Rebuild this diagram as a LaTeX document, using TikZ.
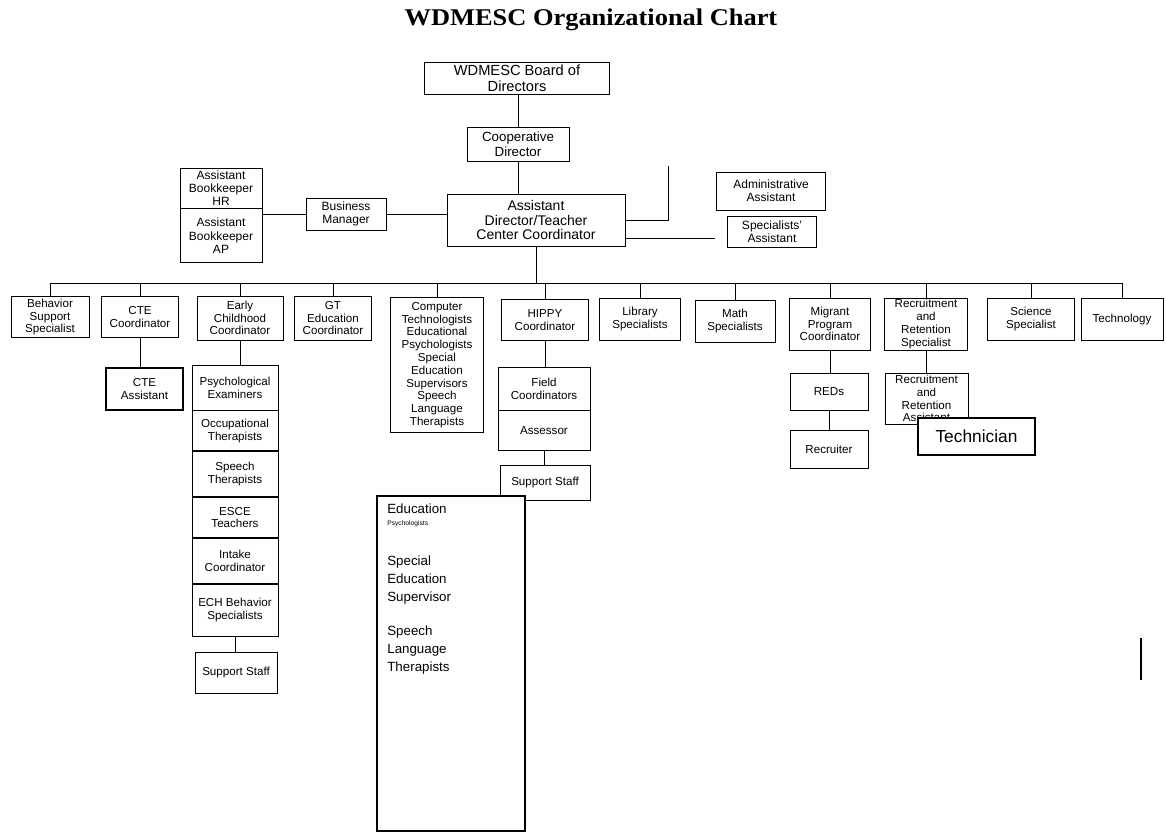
\documentclass[tikz,border=0pt]{standalone}
\usepackage{fontspec}
\setmainfont{Liberation Sans}
\newfontfamily\titlefont{Liberation Serif}
\usetikzlibrary{positioning}

\begin{document}
\begin{tikzpicture}[
    x=0.75pt, y=-0.75pt,
    box/.style={draw, rectangle, line width=0.6pt, align=center, inner sep=1pt, fill=white, font=\fontsize{8.7}{9.6}\selectfont},
    heavy/.style={line width=1.4pt},
    link/.style={line width=0.6pt}
]
\useasboundingbox (0,0) rectangle (1166,833);

% Title
\node[font=\titlefont\bfseries\fontsize{18}{20}\selectfont, xscale=1.1, transform shape] (title) at (591,20) {WDMESC Organizational Chart};

% Top of the chart
\node[box, minimum width=138.75pt, minimum height=24pt, font=\fontsize{11}{12}\selectfont] (board) at (517,78) {WDMESC Board of\\ Directors};
\node[box, minimum width=76.5pt, minimum height=25.5pt, font=\fontsize{10}{11}\selectfont] (coop) at (518,144) {Cooperative\\ Director};
\node[box, minimum width=133.5pt, minimum height=39pt, font=\fontsize{10.5}{11}\selectfont] (asst) at (536,220) {Assistant\\ Director/Teacher\\ Center Coordinator};
\node[box, minimum width=60pt, minimum height=24pt, font=\fontsize{9}{10}\selectfont] (bizmgr) at (346,214) {Business\\ Manager};
\node[box, minimum width=61.5pt, minimum height=30pt, font=\fontsize{9}{10}\selectfont] (bookhr) at (221,188) {Assistant\\ Bookkeeper\\ HR};
\node[box, minimum width=61.5pt, minimum height=40.5pt, font=\fontsize{9}{10}\selectfont, below=0pt of bookhr] (bookap) {Assistant\\ Bookkeeper\\ AP};
\node[box, minimum width=81.75pt, minimum height=28.5pt, font=\fontsize{9}{10}\selectfont] (admin) at (771,191) {Administrative\\ Assistant};
\node[box, minimum width=66.75pt, minimum height=23.25pt, font=\fontsize{9}{10}\selectfont] (specasst) at (772,232) {Specialists'\\ Assistant};

\coordinate (admtip) at (668,166);
\coordinate (spectip) at (715,238);
\coordinate (bus) at (0,283);

\draw[link] (coop.north |- board.south) -- (coop.north);
\draw[link] (coop.south) -- (coop.south |- asst.north);
\draw[link] (bizmgr.east) -- (bizmgr.east -| asst.west);
\draw[link] (bizmgr.west) -- (bizmgr.west -| bookhr.east);
\draw[link] (asst.east) -| (admtip);
\draw[link] (spectip -| asst.east) -- (spectip);
\draw[link] (asst.south) -- (asst.south |- bus);

% Second row
\node[box, minimum width=58.5pt, minimum height=30.75pt] (bss) at (50,317) {Behavior\\ Support\\ Specialist};
\node[box, minimum width=57.75pt, minimum height=30.75pt] (ctec) at (140,317) {CTE\\ Coordinator};
\node[box, minimum width=64.5pt, minimum height=33pt] (ecc) at (240,318) {Early\\ Childhood\\ Coordinator};
\node[box, minimum width=57.75pt, minimum height=33pt] (gt) at (333,318) {GT\\ Education\\ Coordinator};
\node[box, heavy, minimum width=69.75pt, minimum height=101.25pt] (comp) at (437,365) {Computer\\ Technologists\\ Educational\\ Psychologists\\ Special\\ Education\\ Supervisors\\ Speech\\ Language\\ Therapists};
\node[box, minimum width=65.25pt, minimum height=30.75pt] (hippy) at (545,320) {HIPPY\\ Coordinator};
\node[box, minimum width=60.75pt, minimum height=31.5pt] (lib) at (640,319) {Library\\ Specialists};
\node[box, minimum width=60pt, minimum height=31.5pt] (math) at (735,321) {Math\\ Specialists};
\node[box, minimum width=60.75pt, minimum height=39pt] (migr) at (830,324) {Migrant\\ Program\\ Coordinator};
\node[box, minimum width=62.25pt, minimum height=39pt] (recr) at (926,324) {Recruitment\\ and\\ Retention\\ Specialist};
\node[box, minimum width=65.25pt, minimum height=31.5pt] (sci) at (1031,319) {Science\\ Specialist};
\node[box, minimum width=61.5pt, minimum height=31.5pt] (tech) at (1122,319) {Technology};

\draw[link] (bss.north |- bus) -- (tech.north |- bus);
\foreach \n in {bss, ctec, ecc, gt, comp, hippy, lib, math, migr, recr, sci, tech}
    \draw[link] (\n.north) -- (\n.north |- bus);

% CTE
\node[box, minimum width=57.75pt, minimum height=31.5pt, line width=1pt] (cteasst) at (144.5,389) {CTE\\ Assistant};
\draw[link] (ctec.south) -- (ctec.south |- cteasst.north);

% Early childhood stack
\node[box, minimum width=64.5pt, minimum height=33.75pt] (psych) at (235,387.5) {Psychological\\ Examiners};
\node[box, minimum width=64.5pt, minimum height=30pt, below=0pt of psych] (occ) {Occupational\\ Therapists};
\node[box, minimum width=64.5pt, minimum height=33.75pt, below=0pt of occ] (speech) {Speech\\ Therapists};
\node[box, minimum width=64.5pt, minimum height=30pt, below=0pt of speech] (esce) {ESCE\\ Teachers};
\node[box, minimum width=64.5pt, minimum height=33.75pt, below=0pt of esce] (intake) {Intake\\ Coordinator};
\node[box, minimum width=64.5pt, minimum height=39pt, below=0pt of intake] (ech) {ECH Behavior\\ Specialists};
\node[box, minimum width=61.5pt, minimum height=30.75pt] (ecsupp) at (236,672.5) {Support Staff};
\draw[link] (ecc.south) -- (ecc.south |- psych.north);
\draw[link] (ech.south) -- (ech.south |- ecsupp.north);

% HIPPY
\node[box, minimum width=69pt, minimum height=32.25pt] (field) at (544,388.5) {Field\\ Coordinators};
\node[box, minimum width=69pt, minimum height=30pt, below=0pt of field] (assessor) {Assessor};
\node[box, minimum width=67.5pt, minimum height=26.25pt] (hsupp) at (545,482.5) {Support Staff};
\draw[link] (hippy.south) -- (hippy.south |- field.north);
\draw[link] (assessor.south) -- (assessor.south |- hsupp.north);

% Migrant
\node[box, minimum width=58.5pt, minimum height=27.75pt] (reds) at (829,391.5) {REDs};
\node[box, minimum width=58.5pt, minimum height=28.5pt] (recruiter) at (829,449) {Recruiter};
\draw[link] (migr.south) -- (migr.south |- reds.north);
\draw[link] (reds.south) -- (recruiter.north);

% Recruitment
\node[box, minimum width=62.25pt, minimum height=38.25pt] (rrasst) at (926.5,398.5) {Recruitment\\ and\\ Retention\\ Assistant};
\draw[link] (recr.south) -- (recr.south |- rrasst.north);
\node[box, heavy, minimum width=87.75pt, minimum height=27.75pt, font=\fontsize{13}{14}\selectfont] (technician) at (976.5,436.5) {Technician};

% Loose box
\node[box, heavy, minimum width=111pt, minimum height=251.25pt] (edubox) at (451,663.5) {};
\node[anchor=north west, align=left, inner sep=0pt, font=\fontsize{10}{13.5}\selectfont] (edutext) at ([shift={(11,8)}]edubox.north west) {Education\\[-4pt] {\fontsize{5}{6}\selectfont Psychologists}\\[16pt] Special\\ Education\\ Supervisor\\[12pt] Speech\\ Language\\ Therapists};

% stray mark
\coordinate (mark1) at (1141,638);
\coordinate (mark2) at (1141,680);
\draw[line width=1pt] (mark1) -- (mark2);

\end{tikzpicture}
\end{document}
